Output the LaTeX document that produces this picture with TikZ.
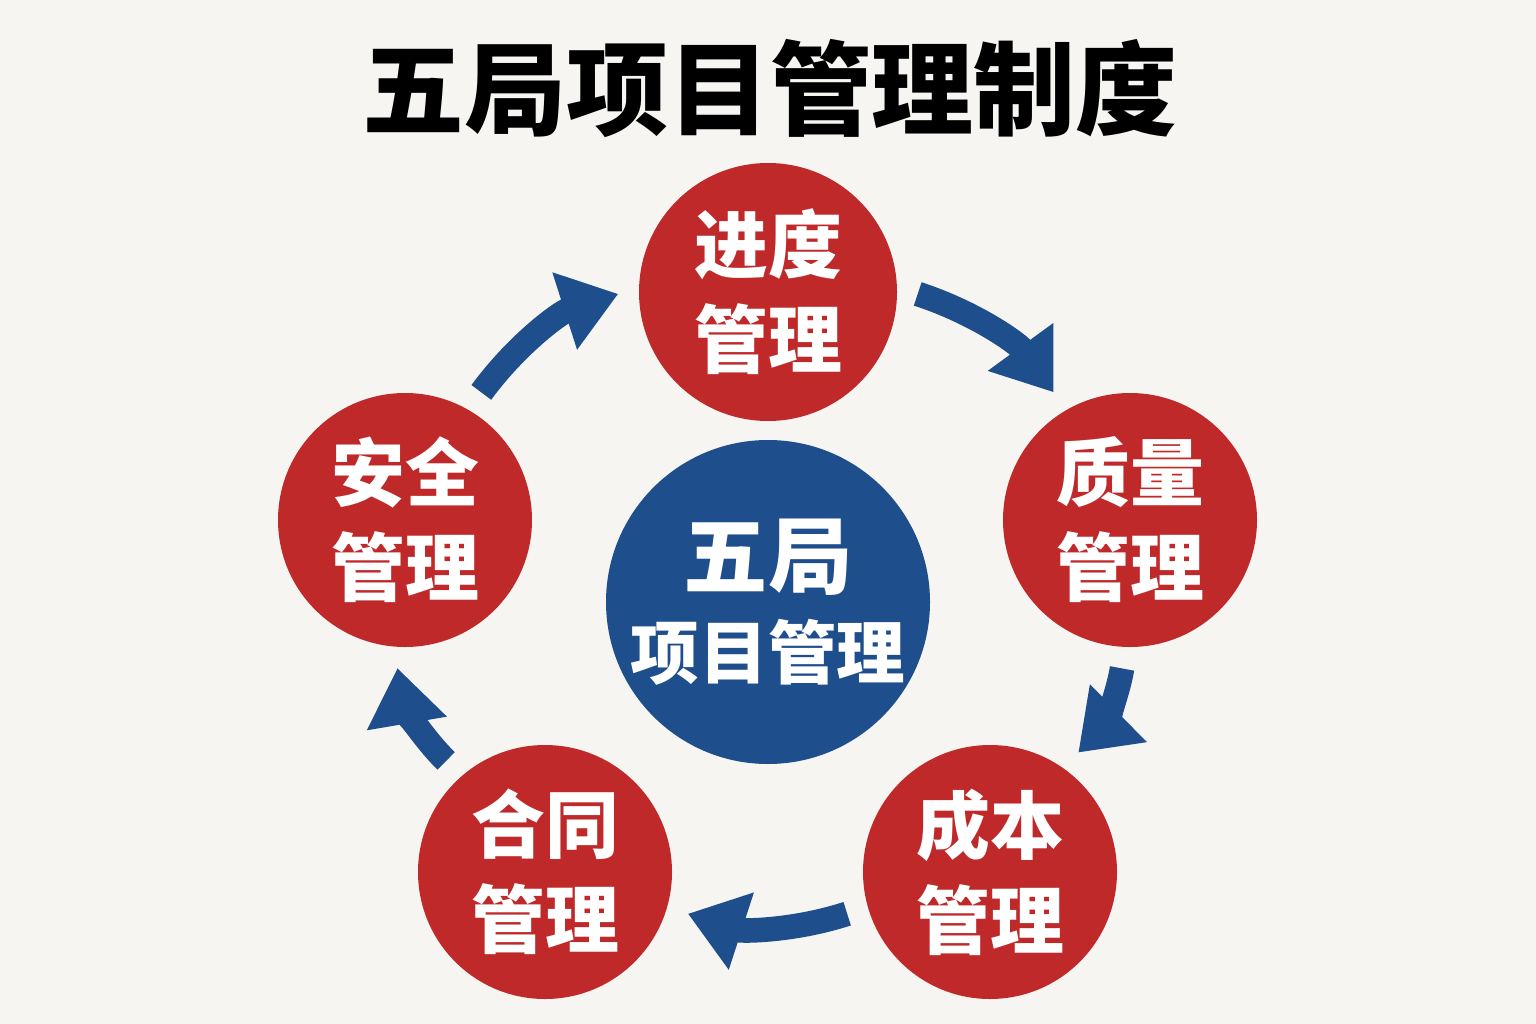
\documentclass[tikz,border=0pt]{standalone}
\usepackage{fontspec}
\newfontfamily\cjk{Noto Sans CJK SC}
\usetikzlibrary{arrows.meta}
\definecolor{bgcol}{HTML}{F7F5F1}
\definecolor{redcol}{HTML}{C0292A}
\definecolor{bluecol}{HTML}{1F4E8C}
\tikzset{
  part/.style={circle, fill=redcol, minimum size=254\unitlength, inner sep=0pt,
    text=white, font=\cjk\bfseries\fontsize{21}{27}\selectfont, align=center},
  hub/.style={circle, fill=bluecol, minimum size=324\unitlength, inner sep=0pt},
  hubtext/.style={text=white, font=\cjk\bfseries\fontsize{19.5}{26}\selectfont, align=center},
  flow/.style={draw=bluecol, line width=7pt, bend left=18,
    -{Triangle[length=16pt,width=22pt]}, shorten <=6pt, shorten >=6pt}
}
\setlength{\unitlength}{0.01cm}
\begin{document}
\begin{tikzpicture}[x=0.01cm,y=-0.01cm]
\fill[bgcol] (0,0) rectangle (1536,1024);
\useasboundingbox (0,0) rectangle (1536,1024);
% title
\node (title) at (770,88) {\cjk\bfseries\fontsize{29}{34}\selectfont 五局项目管理制度};
% circles
\node[hub] (hub) at (768,602) {};
\node[hubtext] (hubtxt) at (hub.center) {{\fontsize{24}{30}\selectfont 五局}\\项目管理};
\node[part, minimum size=258\unitlength] (T) at (768,292) {进度\\管理};
\node[part] (R) at (1130,520) {质量\\管理};
\node[part] (BR) at (990,872) {成本\\管理};
\node[part] (BL) at (545,872) {合同\\管理};
\node[part] (L) at (405,520) {安全\\管理};
% arrows
\draw[flow] (L.60) to (T.178);
\draw[flow] (T.2) to (R.120);
\draw[flow] (R.-92) to (BR.55);
\draw[flow] (BR.196) to (BL.-16);
\draw[flow] (BL.131) to (L.-95);
\end{tikzpicture}
\end{document}
